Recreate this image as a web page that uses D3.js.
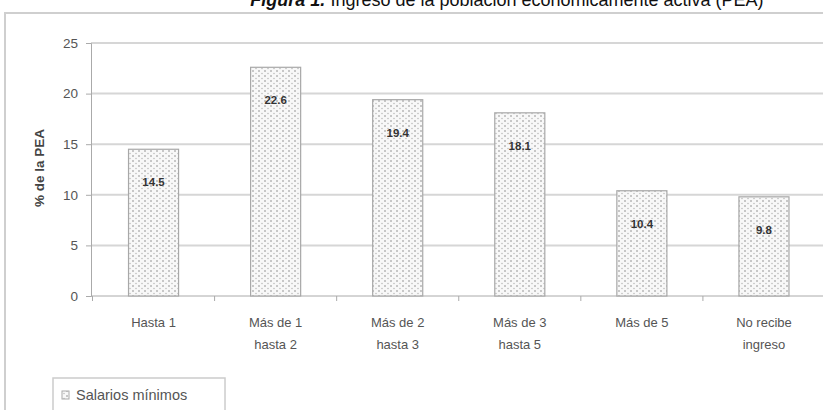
<!DOCTYPE html>
<html>
<head>
<meta charset="utf-8">
<script src="https://cdn.jsdelivr.net/npm/d3@7"></script>
<style>
    body { margin: 0; background: #fff; }
    svg { display: block; font-family: "Liberation Sans", Arial, sans-serif; }
</style>
</head>
<body>
<svg id="chart" width="823" height="410"></svg>
<script>
var categories = [
    ['Hasta 1'],
    ['Más de 1', 'hasta 2'],
    ['Más de 2', 'hasta 3'],
    ['Más de 3', 'hasta 5'],
    ['Más de 5'],
    ['No recibe', 'ingreso']
];
var values = [14.5, 22.6, 19.4, 18.1, 10.4, 9.8];
var yTicks = [0, 5, 10, 15, 20, 25];
var titleBold = 'Figura 1.';
var titleRest = ' Ingreso de la población económicamente activa (PEA)';
var yTitle = '% de la PEA';
var legendLabel = 'Salarios mínimos';

(function () {
    var svg = d3.select('#chart');
    var plot = { left: 91, right: 825, top: 43, bottom: 296 };

    var x = d3.scaleBand()
        .domain(d3.range(categories.length))
        .range([plot.left + 1.5, plot.right])
        .paddingInner(0.59)
        .paddingOuter(0.295);

    var y = d3.scaleLinear()
        .domain([0, 25])
        .range([plot.bottom, plot.top]);

    // dotted fill used by the bars
    var pat = svg.append('defs').append('pattern')
        .attr('id', 'dots')
        .attr('patternUnits', 'userSpaceOnUse')
        .attr('width', 6).attr('height', 5);
    pat.append('rect').attr('width', 6).attr('height', 5).attr('fill', '#f8f8f8');
    pat.append('circle').attr('cx', 1).attr('cy', 1).attr('r', 0.8).attr('fill', '#8a8a8a');
    pat.append('circle').attr('cx', 4).attr('cy', 3.5).attr('r', 0.75).attr('fill', '#b8b8b8');

    // outer frame
    svg.append('rect')
        .attr('x', 5).attr('y', 13)
        .attr('width', 830).attr('height', 410)
        .attr('fill', 'none')
        .attr('stroke', '#cfcfcf')
        .attr('stroke-width', 2);

    // title, cut by the top edge as in the source
    var title = svg.append('text')
        .attr('x', 507).attr('y', 6)
        .attr('text-anchor', 'middle')
        .attr('font-size', 18)
        .attr('fill', '#111');
    title.append('tspan').attr('font-weight', 'bold').attr('font-style', 'italic').text(titleBold);
    title.append('tspan').text(titleRest);

    // gridlines
    svg.append('g').selectAll('line')
        .data(yTicks.filter(function (d) { return d > 0; }))
        .join('line')
        .attr('x1', plot.left).attr('x2', 823)
        .attr('y1', function (d) { return y(d); })
        .attr('y2', function (d) { return y(d); })
        .attr('stroke', '#d6d6d6')
        .attr('stroke-width', 2);

    // y axis
    var yAxis = svg.append('g')
        .attr('transform', 'translate(' + plot.left + ',0)')
        .call(d3.axisLeft(y).tickValues(yTicks).tickSize(5).tickPadding(8));
    yAxis.select('.domain').attr('stroke', '#aaa');
    yAxis.selectAll('.tick line').attr('stroke', '#aaa');
    yAxis.selectAll('.tick text')
        .attr('font-size', 13.5)
        .attr('font-family', '"Liberation Sans", Arial, sans-serif')
        .attr('fill', '#555');

    // x axis baseline with ticks between categories
    var edges = d3.range(categories.length + 1).map(function (i) {
        return x.range()[0] + i * x.step();
    });
    svg.append('line')
        .attr('x1', plot.left).attr('x2', 823)
        .attr('y1', plot.bottom).attr('y2', plot.bottom)
        .attr('stroke', '#aaa');
    svg.append('g').selectAll('line')
        .data(edges)
        .join('line')
        .attr('x1', function (d) { return d; })
        .attr('x2', function (d) { return d; })
        .attr('y1', plot.bottom).attr('y2', plot.bottom + 5)
        .attr('stroke', '#aaa');

    // bars
    svg.append('g').selectAll('rect')
        .data(values)
        .join('rect')
        .attr('x', function (d, i) { return x(i); })
        .attr('y', function (d) { return y(d); })
        .attr('width', x.bandwidth())
        .attr('height', function (d) { return y(0) - y(d); })
        .attr('fill', 'url(#dots)')
        .attr('stroke', '#a8a8a8')
        .attr('stroke-width', 1.2);

    // value labels
    svg.append('g').selectAll('text')
        .data(values)
        .join('text')
        .attr('x', function (d, i) { return x(i) + x.bandwidth() / 2; })
        .attr('y', function (d) { return y(d) + 37; })
        .attr('text-anchor', 'middle')
        .attr('font-size', 11.5)
        .attr('font-weight', 'bold')
        .attr('fill', '#333')
        .text(function (d) { return d.toFixed(1); });

    // category labels
    var catLabels = svg.append('g').selectAll('text')
        .data(categories)
        .join('text')
        .attr('x', function (d, i) { return x(i) + x.bandwidth() / 2; })
        .attr('y', 327)
        .attr('text-anchor', 'middle')
        .attr('font-size', 13)
        .attr('fill', '#555');
    catLabels.selectAll('tspan')
        .data(function (d) { return d; })
        .join('tspan')
        .attr('x', function () { return this.parentNode.getAttribute('x'); })
        .attr('dy', function (d, i) { return i === 0 ? 0 : 22; })
        .text(function (d) { return d; });

    // y axis title
    svg.append('text')
        .attr('transform', 'translate(44,168) rotate(-90)')
        .attr('text-anchor', 'middle')
        .attr('font-size', 13.5)
        .attr('font-weight', 'bold')
        .attr('fill', '#444')
        .text(yTitle);

    // legend
    var legend = svg.append('g');
    legend.append('rect')
        .attr('x', 53).attr('y', 378)
        .attr('width', 172).attr('height', 50)
        .attr('fill', '#fff')
        .attr('stroke', '#ccc')
        .attr('stroke-width', 1.5);
    legend.append('rect')
        .attr('x', 62).attr('y', 391)
        .attr('width', 7).attr('height', 8)
        .attr('fill', 'url(#dots)')
        .attr('stroke', '#aaa');
    legend.append('text')
        .attr('x', 76).attr('y', 400)
        .attr('font-size', 14.5)
        .attr('fill', '#555')
        .text(legendLabel);
})();
</script>
</body>
</html>
